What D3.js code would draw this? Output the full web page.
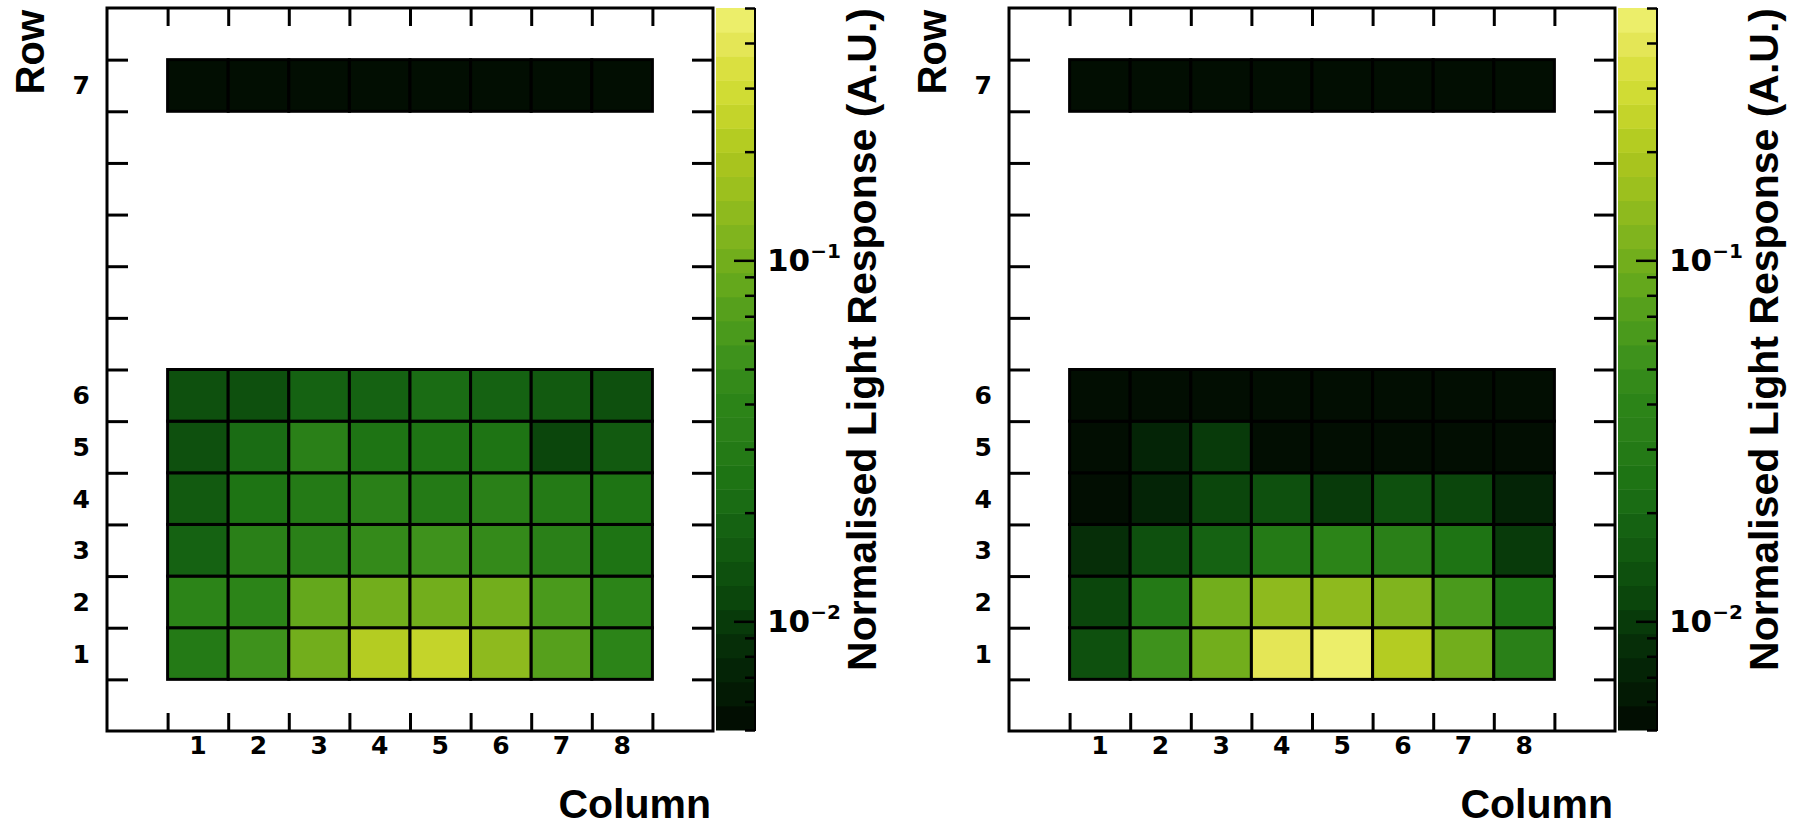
<!DOCTYPE html>
<html>
<head>
<meta charset="utf-8">
<script src="https://cdn.jsdelivr.net/npm/d3@7"></script>
<style>
  body { margin: 0; background: #fff; }
</style>
</head>
<body>
<div id="chart"></div>
<script>
// data (row 1 first, columns 1..8)
const COLUMNS = [1, 2, 3, 4, 5, 6, 7, 8];
const ROWS = ["1", "2", "3", "4", "5", "6", "7"];
const ROW_BINS = [1, 2, 3, 4, 5, 6, 12]; // histogram bin holding each row
const N_XBINS = 10;
const N_YBINS = 14;

const LEFT_VALUES = [
    [0.0302, 0.0549, 0.100, 0.209, 0.240, 0.138, 0.0724, 0.0380],
    [0.0380, 0.0398, 0.0832, 0.100, 0.100, 0.0955, 0.0630, 0.0398],
    [0.0182, 0.0347, 0.0331, 0.0457, 0.0524, 0.0457, 0.0331, 0.0251],
    [0.0158, 0.0251, 0.0275, 0.0347, 0.0288, 0.0363, 0.0288, 0.0251],
    [0.0138, 0.0209, 0.0347, 0.0240, 0.0240, 0.0263, 0.0120, 0.0151],
    [0.0126, 0.0144, 0.0181, 0.0174, 0.0209, 0.0181, 0.0158, 0.0126],
    [0.0054, 0.0055, 0.0054, 0.0055, 0.0054, 0.0055, 0.0055, 0.0056]
];

const RIGHT_VALUES = [
    [0.0126, 0.0549, 0.105, 0.398, 0.457, 0.219, 0.100, 0.0363],
    [0.0110, 0.0302, 0.100, 0.130, 0.130, 0.115, 0.0630, 0.0240],
    [0.0087, 0.0132, 0.0174, 0.0302, 0.0398, 0.0316, 0.0240, 0.0100],
    [0.0052, 0.0072, 0.0110, 0.0132, 0.0105, 0.0144, 0.0110, 0.0072],
    [0.0055, 0.0069, 0.0100, 0.0052, 0.0052, 0.0053, 0.0053, 0.0052],
    [0.0057, 0.0058, 0.0057, 0.0056, 0.0057, 0.0057, 0.0056, 0.0056],
    [0.0053, 0.0054, 0.0053, 0.0054, 0.0053, 0.0053, 0.0054, 0.0054]
];

const Z_DOMAIN = [0.005, 0.5];
const Z_MAJOR = [0.01, 0.1];
const Z_EXPONENTS = ["\u22122", "\u22121"];

// colour bands of the palette, lowest first
const PALETTE = [
    "#020e02", "#031a04", "#042406", "#062e08", "#083a0a", "#0b460c",
    "#0e500e", "#125a10", "#156212", "#1a6c14", "#1e7414", "#247a16",
    "#2a8018", "#2c8418", "#348a1a", "#3e921c", "#4a9a1c", "#56a01c",
    "#64a81c", "#72ae1c", "#80b41e", "#8eba1e", "#9cc01e", "#a8c41e",
    "#b4cc22", "#c4d42a", "#d0dc34", "#dae040", "#e4e656", "#ecee6a"
];

const WIDTH = 1799;
const HEIGHT = 827;
const FRAME = { x0: 107, x1: 713, y0: 8, y1: 731 };
const CBAR = { x0: 716, x1: 755 };
const PANEL_OFFSETS = [0, 902];

const SVG = d3.select("#chart").append("svg")
    .attr("width", WIDTH)
    .attr("height", HEIGHT);

const xScale = d3.scaleBand().domain(d3.range(N_XBINS)).range([FRAME.x0, FRAME.x1]);
const yScale = d3.scaleBand().domain(d3.range(N_YBINS)).range([FRAME.y1, FRAME.y0]);
const xEdge = d3.scaleLinear().domain([0, N_XBINS]).range([FRAME.x0, FRAME.x1]);
const yEdge = d3.scaleLinear().domain([0, N_YBINS]).range([FRAME.y1, FRAME.y0]);
const zScale = d3.scaleLog().domain(Z_DOMAIN).range([FRAME.y1 - 1, FRAME.y0]);
const zNorm = d3.scaleLog().domain(Z_DOMAIN).range([0, 1]).clamp(true);

function bandColor(v) {
    const k = Math.min(PALETTE.length - 1, Math.floor(zNorm(v) * PALETTE.length));
    return PALETTE[k];
}

function styleAxis(g, width) {
    g.select(".domain").remove();
    g.selectAll(".tick line").attr("stroke", "#000").attr("stroke-width", width);
}

function drawPanel(dx, values) {
    const g = SVG.append("g").attr("transform", `translate(${dx},0)`);

    const cells = [];
    values.forEach((row, r) => row.forEach((v, c) => cells.push({ r: r, c: c, v: v })));

    g.selectAll("rect.cell")
        .data(cells)
        .join("rect")
        .attr("class", "cell")
        .attr("x", d => xScale(COLUMNS[d.c]))
        .attr("y", d => yScale(ROW_BINS[d.r]))
        .attr("width", xScale.bandwidth())
        .attr("height", yScale.bandwidth())
        .attr("fill", d => bandColor(d.v))
        .attr("stroke", "#000")
        .attr("stroke-width", 3);

    // ticks on all four sides, pointing inwards
    g.append("g").attr("transform", `translate(0,${FRAME.y1})`)
        .call(d3.axisBottom(xEdge).tickValues(d3.range(1, N_XBINS)).tickSize(-18).tickFormat(""))
        .call(styleAxis, 3);
    g.append("g").attr("transform", `translate(0,${FRAME.y0})`)
        .call(d3.axisTop(xEdge).tickValues(d3.range(1, N_XBINS)).tickSize(-18).tickFormat(""))
        .call(styleAxis, 3);
    g.append("g").attr("transform", `translate(${FRAME.x0},0)`)
        .call(d3.axisLeft(yEdge).tickValues(d3.range(1, N_YBINS)).tickSize(-21).tickFormat(""))
        .call(styleAxis, 3);
    g.append("g").attr("transform", `translate(${FRAME.x1},0)`)
        .call(d3.axisRight(yEdge).tickValues(d3.range(1, N_YBINS)).tickSize(-21).tickFormat(""))
        .call(styleAxis, 3);

    g.append("rect")
        .attr("x", FRAME.x0)
        .attr("y", FRAME.y0)
        .attr("width", FRAME.x1 - FRAME.x0)
        .attr("height", FRAME.y1 - FRAME.y0)
        .attr("fill", "none")
        .attr("stroke", "#000")
        .attr("stroke-width", 3);

    // tick labels
    g.selectAll("text.xlab")
        .data(COLUMNS)
        .join("text")
        .attr("class", "xlab")
        .attr("x", d => xScale(d) + xScale.bandwidth() / 2)
        .attr("y", 754)
        .attr("text-anchor", "middle")
        .attr("font-family", "DejaVu Sans")
        .attr("font-weight", "bold")
        .attr("font-size", 25)
        .text(d => d);

    g.selectAll("text.ylab")
        .data(ROWS)
        .join("text")
        .attr("class", "ylab")
        .attr("x", 90)
        .attr("y", (d, i) => yScale(ROW_BINS[i]) + yScale.bandwidth() / 2 + 9)
        .attr("text-anchor", "end")
        .attr("font-family", "DejaVu Sans")
        .attr("font-weight", "bold")
        .attr("font-size", 25)
        .text(d => d);

    g.append("text")
        .attr("transform", "translate(44,10) rotate(-90)")
        .attr("text-anchor", "end")
        .attr("font-family", "Liberation Sans")
        .attr("font-weight", "bold")
        .attr("font-size", 40)
        .text("Row");

    g.append("text")
        .attr("x", FRAME.x1 - 2)
        .attr("y", 818)
        .attr("text-anchor", "end")
        .attr("font-family", "Liberation Sans")
        .attr("font-weight", "bold")
        .attr("font-size", 41)
        .text("Column");

    // colour bar
    const bands = d3.range(PALETTE.length);
    g.selectAll("rect.band")
        .data(bands)
        .join("rect")
        .attr("class", "band")
        .attr("x", CBAR.x0)
        .attr("y", k => zScale(zNorm.invert((k + 1) / PALETTE.length)))
        .attr("width", CBAR.x1 - CBAR.x0)
        .attr("height", k => zScale(zNorm.invert(k / PALETTE.length)) - zScale(zNorm.invert((k + 1) / PALETTE.length)) + 0.5)
        .attr("fill", k => PALETTE[k]);

    g.append("g").attr("transform", `translate(${CBAR.x1},0)`)
        .call(d3.axisRight(zScale).tickValues(zScale.ticks().filter(t => !Z_MAJOR.includes(t))).tickSize(-10).tickFormat(""))
        .call(styleAxis, 2.5);
    g.append("g").attr("transform", `translate(${CBAR.x1},0)`)
        .call(d3.axisRight(zScale).tickValues(Z_MAJOR).tickSize(-21).tickFormat(""))
        .call(styleAxis, 2.5);

    g.append("line")
        .attr("x1", CBAR.x1).attr("x2", CBAR.x1)
        .attr("y1", FRAME.y0).attr("y2", FRAME.y1)
        .attr("stroke", "#000").attr("stroke-width", 2);

    const zl = g.selectAll("text.zlab")
        .data(Z_MAJOR)
        .join("text")
        .attr("class", "zlab")
        .attr("x", 767)
        .attr("y", d => zScale(d) + 11)
        .attr("font-family", "DejaVu Sans")
        .attr("font-weight", "bold")
        .attr("font-size", 31);
    zl.append("tspan").text("10");
    zl.append("tspan")
        .attr("dy", -13)
        .attr("font-size", 20)
        .text((d, i) => Z_EXPONENTS[i]);

    g.append("text")
        .attr("transform", `translate(876,${FRAME.y0}) rotate(-90)`)
        .attr("text-anchor", "end")
        .attr("font-family", "Liberation Sans")
        .attr("font-weight", "bold")
        .attr("font-size", 41)
        .text("Normalised Light Response (A.U.)");
}

drawPanel(PANEL_OFFSETS[0], LEFT_VALUES);
drawPanel(PANEL_OFFSETS[1], RIGHT_VALUES);
</script>
</body>
</html>
